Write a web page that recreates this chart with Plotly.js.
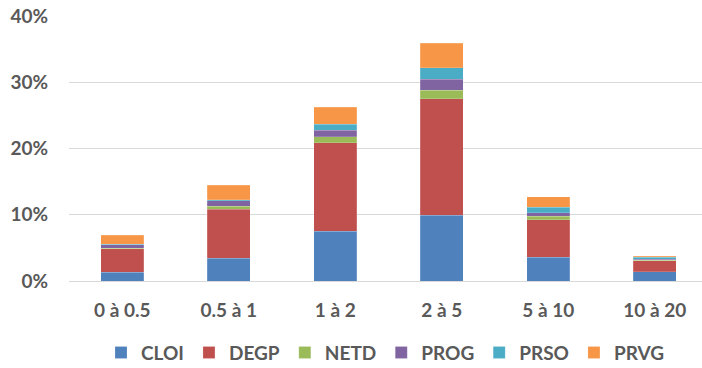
<!DOCTYPE html>
<html>
<head>
<meta charset="utf-8">
<script src="https://cdn.plot.ly/plotly-3.0.1.min.js"></script>
<style>html,body{margin:0;padding:0;background:#fff;}#chart{width:702px;height:368px;}</style>
</head>
<body>
<div id="chart"></div>
<script>
const categories = ["0 à 0.5", "0.5 à 1", "1 à 2", "2 à 5", "5 à 10", "10 à 20"];
const CLOI = [1.31, 3.43, 7.50, 9.96, 3.58, 1.40];
const DEGP = [3.57, 7.39, 13.38, 17.56, 5.67, 1.62];
const NETD = [0.08, 0.50, 0.86, 1.31, 0.52, 0.10];
const PROG = [0.50, 0.76, 1.05, 1.62, 0.54, 0.15];
const PRSO = [0.08, 0.19, 0.86, 1.75, 0.86, 0.35];
const PRVG = [1.40, 2.22, 2.57, 3.68, 1.55, 0.15];
const yTicks = [0, 10, 20, 30, 40];

const series = [
  {name: "CLOI", y: CLOI, color: "#4F81BD"},
  {name: "DEGP", y: DEGP, color: "#C0504D"},
  {name: "NETD", y: NETD, color: "#9BBB59"},
  {name: "PROG", y: PROG, color: "#8064A2"},
  {name: "PRSO", y: PRSO, color: "#4BACC6"},
  {name: "PRVG", y: PRVG, color: "#F79646"}
];

const font = {family: "Lato, 'Open Sans', sans-serif", size: 19, color: "#595959", weight: "bold"};

const data = series.map(s => ({
  type: "bar",
  name: s.name,
  x: categories,
  y: s.y,
  marker: {color: s.color, line: {color: "rgba(255,255,255,0.35)", width: 0.5}},
  hoverinfo: "name+y"
}));

const layout = {
  width: 702, height: 368,
  margin: {l: 69, r: 0, t: 16, b: 87, autoexpand: false},
  barmode: "stack",
  bargap: 0.6,
  paper_bgcolor: "#ffffff",
  plot_bgcolor: "#ffffff",
  font: font,
  showlegend: true,
  legend: {
    orientation: "h", x: 0.5, xanchor: "center", y: -0.27, yanchor: "middle",
    font: font, traceorder: "normal", itemwidth: 30
  },
  xaxis: {
    type: "category",
    range: [-0.5, 5.444],
    automargin: false,
    showgrid: false, zeroline: false, showline: false,
    ticks: "", tickfont: font, ticklabelstandoff: 16
  },
  yaxis: {
    range: [0, 40],
    automargin: false,
    tickvals: yTicks,
    ticktext: yTicks.map(v => v + "%"),
    showgrid: true, gridcolor: "#D9D9D9", gridwidth: 1,
    zeroline: true, zerolinecolor: "#D9D9D9", zerolinewidth: 1,
    showline: false, ticks: "", tickfont: font, ticklabelstandoff: 20
  }
};

Plotly.newPlot("chart", data, layout, {displayModeBar: false, staticPlot: true});
</script>
</body>
</html>
